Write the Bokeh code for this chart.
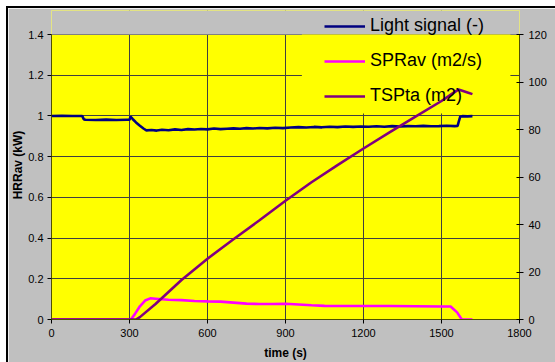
from bokeh.plotting import figure
from bokeh.models import Range1d, LinearAxis, FixedTicker, CustomJSTickFormatter, Legend, LegendItem
from bokeh.embed import file_html
from bokeh.resources import INLINE

# ---- data ----
light_t = [0, 40, 80, 118, 124, 130, 170, 210, 250, 290,
           300, 304, 312, 325, 340, 355, 365, 385, 405, 425,
           450, 475, 500, 525, 550, 575, 600, 625, 650, 675,
           700, 725, 750, 775, 800, 830, 860, 890, 920, 950,
           980, 1010, 1040, 1070, 1100, 1130, 1160, 1190, 1220, 1250,
           1280, 1310, 1340, 1370, 1400, 1430, 1460, 1490, 1520, 1550,
           1562, 1567, 1572, 1580, 1600, 1619]
light_v = [1.000, 1.001, 1.000, 1.000, 0.984, 0.981, 0.980, 0.982, 0.980, 0.981,
           0.981, 0.996, 0.985, 0.968, 0.952, 0.937, 0.929, 0.931, 0.928, 0.932,
           0.930, 0.934, 0.931, 0.935, 0.933, 0.936, 0.934, 0.938, 0.935, 0.937,
           0.939, 0.937, 0.940, 0.938, 0.941, 0.939, 0.942, 0.940, 0.943, 0.945,
           0.943, 0.946, 0.944, 0.947, 0.945, 0.948, 0.946, 0.948, 0.947, 0.949,
           0.947, 0.950, 0.948, 0.950, 0.949, 0.951, 0.949, 0.950, 0.952, 0.950,
           0.951, 0.975, 0.996, 0.999, 0.998, 0.999]

spr_t = [0, 305, 320, 340, 360, 380, 400, 450, 500, 550,
         600, 650, 700, 750, 800, 850, 900, 950, 1000, 1050,
         1100, 1200, 1300, 1400, 1500, 1535, 1560, 1578, 1619]
spr_v = [0, 0, 0.025, 0.065, 0.093, 0.104, 0.102, 0.097, 0.095, 0.091,
         0.089, 0.088, 0.083, 0.078, 0.076, 0.076, 0.077, 0.074, 0.070, 0.067,
         0.066, 0.066, 0.066, 0.065, 0.064, 0.064, 0.035, 0, 0]

tsp_t = [0, 325, 340, 400, 500, 600, 700, 800, 900, 1000,
         1100, 1200, 1300, 1400, 1500, 1540, 1565, 1580, 1600, 1619]
tsp_v = [0, 0, 1.0, 6.5, 16.6, 25.6, 33.8, 41.8, 50.0, 57.8,
         65.0, 72.0, 78.8, 85.4, 92.0, 95.0, 96.8, 96.3, 95.6, 94.9]

x_ticks = [0, 300, 600, 900, 1200, 1500, 1800]
left_ticks = [0, 0.2, 0.4, 0.6, 0.8, 1.0, 1.2, 1.4]
right_ticks = [0, 20, 40, 60, 80, 100, 120]

names = ["Light signal (-)", "SPRav (m2/s)", "TSPta (m2)"]
colors = ["#000080", "#FF00FF", "#800080"]

FONT = "Liberation Sans"
GRAY = "#C0C0C0"
YELLOW = "#FFFF00"

X_MAX, L_MAX, R_MAX = 1800, 1.4, 120
# plot area is 285 px tall; frame is extended 24 px upward so the legend's
# first row (which sits above the plot area) is not clipped
ext = (285 + 24) / 285
L_TOP, R_TOP = L_MAX * ext, R_MAX * ext

p = figure(width=547, height=354, output_backend="svg", toolbar_location=None,
           x_range=Range1d(0, X_MAX), y_range=Range1d(0, L_TOP),
           min_border_left=42, min_border_right=36, min_border_top=2, min_border_bottom=43,
           background_fill_color=YELLOW, border_fill_color=GRAY,
           outline_line_color=None)
p.margin = (8, 0, 0, 8)
p.styles = {"outline": "2px solid black"}
p.extra_y_ranges = {"right": Range1d(0, R_TOP)}

# axes
p.xaxis.ticker = FixedTicker(ticks=x_ticks)
p.yaxis.ticker = FixedTicker(ticks=left_ticks)
p.yaxis.formatter = CustomJSTickFormatter(code="return tick.toFixed(1).replace(/\\.0$/, '');")
p.yaxis.bounds = (0, L_MAX)
ax_r = LinearAxis(y_range_name="right", ticker=FixedTicker(ticks=right_ticks), bounds=(0, R_MAX))
p.add_layout(ax_r, "right")

for ax in [p.xaxis[0], p.yaxis[0], ax_r]:
    ax.axis_line_color = "#505000"
    ax.axis_line_width = 1
    ax.major_tick_line_color = "black"
    ax.major_tick_in = 3
    ax.major_tick_out = 4
    ax.minor_tick_line_color = None
    ax.major_label_text_font = FONT
    ax.major_label_text_font_size = "11px"
    ax.major_label_text_color = "black"
    ax.major_label_standoff = 5
    ax.axis_label_text_font = FONT
    ax.axis_label_text_font_size = "12px"
    ax.axis_label_text_font_style = "bold"
    ax.axis_label_text_color = "black"

p.xaxis.axis_label = "time (s)"
p.xaxis.axis_label_standoff = 6
p.yaxis[0].axis_label = "HRRav (kW)"
p.yaxis[0].axis_label_standoff = 0
p.yaxis[0].major_label_standoff = 4
p.yaxis[0].major_tick_in = 0
p.xaxis.major_tick_in = 0

p.xgrid.ticker = FixedTicker(ticks=x_ticks)
p.ygrid.ticker = FixedTicker(ticks=left_ticks)
for g in [p.xgrid[0], p.ygrid[0]]:
    g.grid_line_color = "#404040"
    g.grid_line_width = 1

# gray strip above the plot area (inside the extended frame)
p.quad(left=0, right=X_MAX, bottom=L_MAX, top=L_TOP, fill_color=GRAY, line_color=None)
# yellow legend backdrop inside the plot area (hides gridlines behind legend)
p.quad(left=963, right=1765, bottom=1.012, top=L_MAX, fill_color=YELLOW, line_color=None)

r1 = p.line(light_t, light_v, line_color=colors[0], line_width=2.6)
r2 = p.line(spr_t, spr_v, line_color=colors[1], line_width=2.6)
r3 = p.line(tsp_t, tsp_v, line_color=colors[2], line_width=2.6, y_range_name="right")

legend = Legend(items=[LegendItem(label=names[0], renderers=[r1]),
                       LegendItem(label=names[1], renderers=[r2]),
                       LegendItem(label=names[2], renderers=[r3])],
                location=(273, 213), padding=0, margin=0, spacing=14,
                glyph_width=41, glyph_height=20, label_height=20, label_standoff=5,
                label_text_font=FONT, label_text_font_size="18px", label_text_color="black",
                background_fill_alpha=0, border_line_alpha=0)
p.add_layout(legend, "center")

open("out.html", "w").write(file_html(p, INLINE))
